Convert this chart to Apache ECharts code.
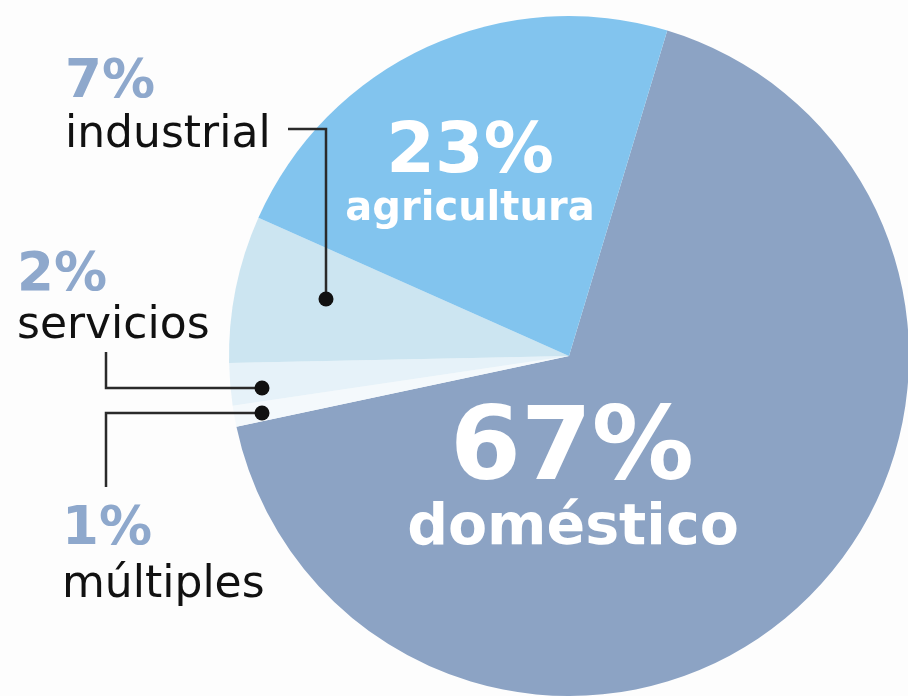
<!DOCTYPE html>
<html>
<head>
<meta charset="utf-8">
<script src="https://cdn.jsdelivr.net/npm/echarts@6/dist/echarts.min.js"></script>
<style>
html,body{margin:0;padding:0;background:#fdfdfd;}
#chart{width:908px;height:696px;}
</style>
</head>
<body>
<div id="chart"></div>
<script>
// Data (slice order clockwise from the top-right boundary)
const categories = ['doméstico', 'múltiples', 'servicios', 'industrial', 'agricultura'];
const values = [67, 1, 2, 7, 23];
const sliceColors = ['#8ca3c4', '#f4f9fc', '#e6f2f9', '#cce5f1', '#82c4ee'];

const chart = echarts.init(document.getElementById('chart'), null, {renderer: 'canvas'});

const FONT = '"DejaVu Sans", sans-serif';
const pct = i => values[i] + '%';

// Outside labels (left side)
const outside = [
  {i: 3, x: 65, yp: 85, yn: 140},
  {i: 2, x: 17, yp: 278, yn: 331},
  {i: 1, x: 62, yp: 532, yn: 590}
];

const graphics = [];
outside.forEach(o => {
  graphics.push({type: 'text', left: o.x, top: o.yp - 28, z: 20, style: {text: pct(o.i), font: 'bold 53px ' + FONT, fill: '#8ea8cc'}});
  graphics.push({type: 'text', left: o.x, top: o.yn - 26, z: 20, style: {text: categories[o.i], font: 'normal 44px ' + FONT, fill: '#111'}});
});

// Leader lines
const lineStyle = {stroke: '#2a2a2a', lineWidth: 2.5, fill: null};
graphics.push({type: 'polyline', z: 20, shape: {points: [[288, 129], [326, 129], [326, 299]]}, style: lineStyle});
graphics.push({type: 'polyline', z: 20, shape: {points: [[106, 352], [106, 388], [262, 388]]}, style: lineStyle});
graphics.push({type: 'polyline', z: 20, shape: {points: [[106, 487], [106, 413], [262, 413]]}, style: lineStyle});
[[326, 299], [262, 388], [262, 413]].forEach(p => {
  graphics.push({type: 'circle', z: 21, shape: {cx: p[0], cy: p[1], r: 7.5}, style: {fill: '#111'}});
});

// Inside labels
graphics.push({type: 'text', x: 470, y: 154, z: 20, style: {text: pct(4), font: 'bold 70px ' + FONT, fill: '#fff', textAlign: 'center', textVerticalAlign: 'middle'}});
graphics.push({type: 'text', x: 470, y: 210, z: 20, style: {text: categories[4], font: 'bold 40px ' + FONT, fill: '#fff', textAlign: 'center', textVerticalAlign: 'middle'}});
graphics.push({type: 'text', x: 572, y: 452, z: 20, style: {text: pct(0), font: 'bold 102px ' + FONT, fill: '#fff', textAlign: 'center', textVerticalAlign: 'middle'}});
graphics.push({type: 'text', x: 573, y: 529, z: 20, style: {text: categories[0], font: 'bold 57px ' + FONT, fill: '#fff', textAlign: 'center', textVerticalAlign: 'middle'}});

chart.setOption({
  backgroundColor: '#fdfdfd',
  animation: false,
  series: [{
    type: 'pie',
    center: [569, 356],
    radius: [0, 340],
    startAngle: 73.2,
    clockwise: true,
    label: {show: false},
    labelLine: {show: false},
    silent: true,
    z: 2,
    itemStyle: {borderWidth: 0},
    data: categories.map((c, i) => ({name: c, value: values[i], itemStyle: {color: sliceColors[i]}}))
  }],
  graphic: {elements: graphics}
});
</script>
</body>
</html>
